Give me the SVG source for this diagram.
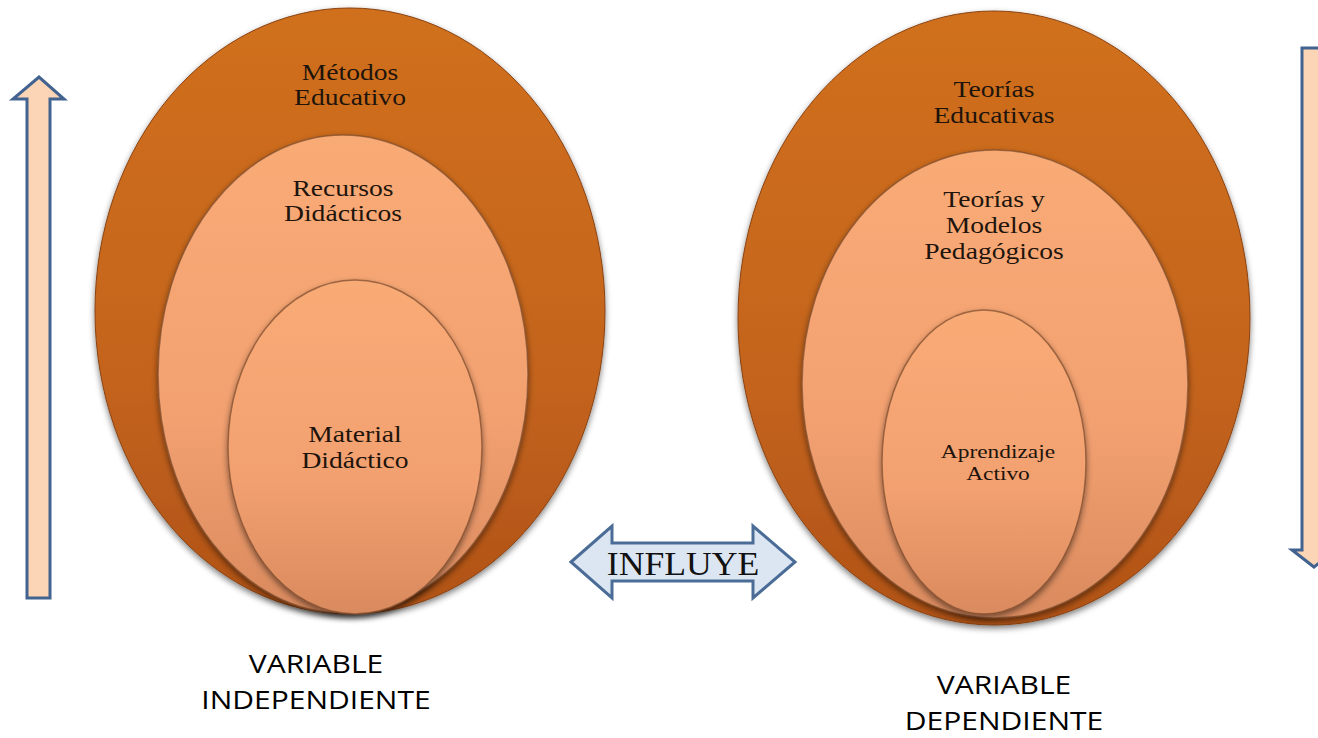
<svg xmlns="http://www.w3.org/2000/svg" width="1318" height="738" viewBox="0 0 1318 738">
<defs>
<linearGradient id="gOuter" x1="0" y1="0" x2="0" y2="1">
<stop offset="0" stop-color="#d0701f"/>
<stop offset="0.6" stop-color="#c4641c"/>
<stop offset="1" stop-color="#b05218"/>
</linearGradient>
<linearGradient id="gInner" x1="0" y1="0" x2="0" y2="1">
<stop offset="0" stop-color="#f9ab76"/>
<stop offset="0.6" stop-color="#f2a070"/>
<stop offset="1" stop-color="#d98a5e"/>
</linearGradient>
<filter id="sh" x="-10%" y="-10%" width="120%" height="120%">
<feGaussianBlur in="SourceAlpha" stdDeviation="3"/>
<feOffset dx="0" dy="3" result="b"/>
<feComponentTransfer><feFuncA type="linear" slope="0.5"/></feComponentTransfer>
<feMerge><feMergeNode/><feMergeNode in="SourceGraphic"/></feMerge>
</filter>
</defs>
<style>
.outer{fill:url(#gOuter);stroke:#8a4212;stroke-width:1;filter:url(#sh)}
.inner{fill:url(#gInner);stroke:#7a4a2c;stroke-width:1.5;stroke-opacity:0.7;filter:url(#sh)}
.lbl{font-family:"Liberation Serif","Times New Roman",serif;font-size:23px;fill:#1e140c;text-anchor:middle}
.small{font-size:18px}
.var{font-family:"Open Sans","Noto Sans",sans-serif;font-size:25px;fill:#000;text-anchor:middle}
.arrow{fill:#fbd5b5;stroke:#42628f;stroke-width:3}
.dbl{fill:#dce6f2;stroke:#4a6c96;stroke-width:3;stroke-linejoin:miter}
</style>
<rect width="1318" height="738" fill="#fff"/>

<g id="left-set">
<g id="metodos">
<ellipse class="outer" cx="350" cy="311" rx="255" ry="303"/>
<g transform="translate(350,0) scale(1.2,1)">
<text class="lbl" x="0" y="80">Métodos</text>
<text class="lbl" x="0" y="105">Educativo</text>
</g>
</g>
<g id="recursos">
<ellipse class="inner" cx="343" cy="374" rx="185" ry="239"/>
<g transform="translate(343,0) scale(1.2,1)">
<text class="lbl" x="0" y="196">Recursos</text>
<text class="lbl" x="0" y="221">Didácticos</text>
</g>
</g>
<g id="material">
<ellipse class="inner" cx="355" cy="447" rx="127" ry="167"/>
<g transform="translate(355,0) scale(1.2,1)">
<text class="lbl" x="0" y="442">Material</text>
<text class="lbl" x="0" y="468">Didáctico</text>
</g>
</g>
</g>

<g id="right-set">
<g id="teorias-educativas">
<ellipse class="outer" cx="994" cy="318" rx="256" ry="307"/>
<g transform="translate(994,0) scale(1.2,1)">
<text class="lbl" x="0" y="97">Teorías</text>
<text class="lbl" x="0" y="123">Educativas</text>
</g>
</g>
<g id="teorias-modelos">
<ellipse class="inner" cx="995" cy="384" rx="193" ry="234"/>
<g transform="translate(994,0) scale(1.2,1)">
<text class="lbl" x="0" y="207">Teorías y</text>
<text class="lbl" x="0" y="233">Modelos</text>
<text class="lbl" x="0" y="259">Pedagógicos</text>
</g>
</g>
<g id="aprendizaje">
<ellipse class="inner" cx="984" cy="462" rx="102" ry="152"/>
<g transform="translate(998,0) scale(1.3,1)">
<text class="lbl small" x="0" y="458">Aprendizaje</text>
<text class="lbl small" x="0" y="480">Activo</text>
</g>
</g>
</g>

<g id="connectors">
<polygon class="arrow" points="27,598 27,99 13,99 39,77 64,99 50,99 50,598 27,598"/>
<polygon class="arrow" points="1302,48 1326,48 1326,550 1336,550 1314,567 1292,550 1302,550 1302,48"/>
<g id="influye">
<polygon class="dbl" points="571,562 612,526 612,543 753,543 753,526 795,562 753,598 753,581 612,581 612,598"/>
<g transform="translate(683,0) scale(1.08,1)">
<text x="0" y="575" style="font-family:'Liberation Serif','Times New Roman',serif;font-size:33px;fill:#111;text-anchor:middle">INFLUYE</text>
</g>
</g>
</g>

<g id="labels">
<g transform="translate(316,0) scale(1.2,1)">
<text class="var" x="0" y="673">VARIABLE</text>
<text class="var" x="0" y="709">INDEPENDIENTE</text>
</g>
<g transform="translate(1004,0) scale(1.2,1)">
<text class="var" x="0" y="694">VARIABLE</text>
<text class="var" x="0" y="730">DEPENDIENTE</text>
</g>
</g>
</svg>
